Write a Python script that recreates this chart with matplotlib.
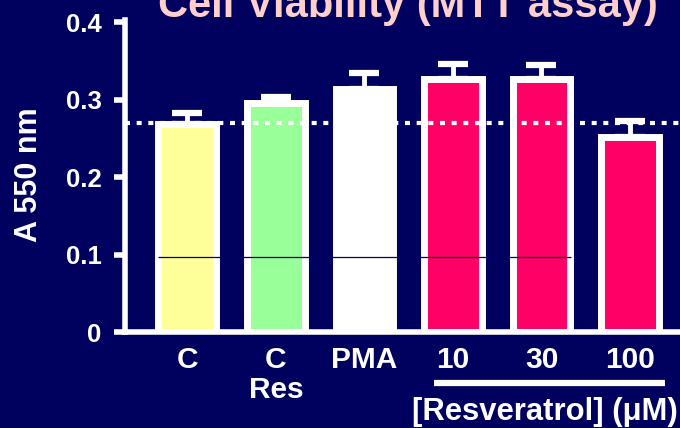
import matplotlib.pyplot as plt
import matplotlib.transforms as mtransforms
import numpy as np

plt.rcParams['font.family'] = ['Liberation Sans', 'DejaVu Sans']
plt.rcParams['font.weight'] = 'bold'

# MTT absorbance per treatment
groups = ['C', 'C\nRes', 'PMA', '10', '30', '100']
a550 = [0.268, 0.295, 0.313, 0.327, 0.327, 0.252]
sem = [0.015, 0.008, 0.021, 0.019, 0.018, 0.020]
control_level = 0.270
yticks = [0, 0.1, 0.2, 0.3, 0.4]
ytick_labels = ['0', '0.1', '0.2', '0.3', '0.4']

navy = '#00005F'
fills = ['#FFFF99', '#99FF99', '#FFFFFF', '#FF0066', '#FF0066', '#FF0066']

fig = plt.figure(figsize=(6.8, 4.28), dpi=100, facecolor=navy)
ax = fig.add_axes([125 / 680, 96 / 428, 555 / 680, 312 / 428])
ax.set_facecolor(navy)

x = np.arange(len(groups))
ax.bar(x, a550, width=0.655, color=fills, edgecolor='white', linewidth=5, zorder=2)
ax.errorbar(x, a550, yerr=[np.zeros(len(sem)), sem], fmt='none', ecolor='white',
            elinewidth=3.5, capsize=11, capthick=4.5, zorder=1)

# thin rule across the bars and the dotted control level
ax.hlines(0.097, x[0] - 0.33, x[4] + 0.33, color=navy, linewidth=0.9, zorder=3)
ax.axhline(control_level, color='white', linewidth=3, linestyle=(0, (1.2, 1.6)), zorder=4)

ax.set_xlim(-0.706, 5.565)
ax.set_ylim(0, 0.4026)

for side in ['top', 'right']:
    ax.spines[side].set_visible(False)
for side in ['left', 'bottom']:
    ax.spines[side].set_color('white')
    ax.spines[side].set_linewidth(4)
    ax.spines[side].set_zorder(5)

ax.set_yticks(yticks)
ax.set_yticklabels(ytick_labels)
ax.tick_params(axis='y', colors='white', length=8, width=4, pad=9, labelsize=18.5)
ax.set_xticks(x)
ax.set_xticklabels(groups, linespacing=1.1)
ax.tick_params(axis='x', colors='white', length=0, pad=10, labelsize=21.5)

fig.text(29 / 680, (428 - 175) / 428, 'A 550 nm', color='white', fontsize=22,
         fontweight='bold', rotation=90, ha='center', va='center')

# bracket under the resveratrol doses
trans = mtransforms.blended_transform_factory(ax.transData, ax.transAxes)
ax.plot([x[3] - 0.22, x[5] + 0.39], [-0.163, -0.163], color='white', linewidth=4.5,
        solid_capstyle='butt', transform=trans, clip_on=False)
fig.text(412 / 680, (428 - 420) / 428, '[Resveratrol] (\u03bcM)', color='white',
         fontsize=22.3, ha='left', va='baseline')

fig.text(158 / 680, (428 - 17) / 428, 'Cell Viability (MTT assay)', color='#FFCFCC',
         fontsize=30, ha='left', va='baseline')

fig.savefig('out.png', dpi=100, facecolor=navy)
